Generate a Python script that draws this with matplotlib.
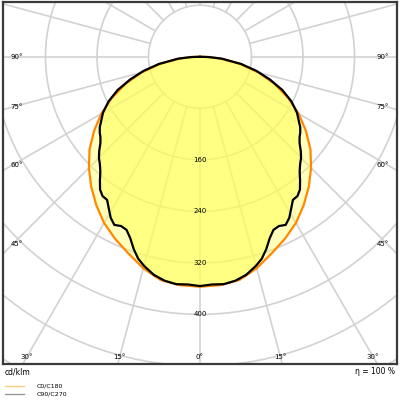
import numpy as np
import matplotlib
matplotlib.use("Agg")
import matplotlib.pyplot as plt

# C0/C180 (smooth) angle (deg from nadir) : cd/klm
c0_ang = [0, 5, 10, 15, 20, 25, 30, 35, 40, 45, 50, 55, 60, 65, 70, 75, 80, 85, 88, 90]
c0_val = [357, 356, 352, 340, 325, 312, 298, 281, 263, 244, 224, 201, 177, 151, 123, 94, 63, 32, 13, 1]
# C90/C270 (wavy)
c90_ang = [0, 3, 6, 9, 12, 15, 17, 19, 21, 23, 25, 27, 29, 31, 33, 35, 37, 39, 41, 43,
           45, 47, 49, 51, 53, 55, 57, 60, 64, 68, 72, 76, 80, 85, 88, 90]
c90_val = [356, 354, 355, 352, 346, 336, 328, 316, 302, 292, 290, 293, 286, 275, 265, 264, 258, 247, 236, 228,
           222, 214, 205, 199, 195, 190, 183, 174, 158, 138, 114, 90, 65, 34, 14, 1]
ring_vals = [80, 160, 240, 320, 400, 480, 560, 640]
ring_labels = [160, 240, 320, 400]
side_angles = [90, 75, 60, 45]
bottom_angles = [30, 15, 0]

fig = plt.figure(figsize=(4, 4), dpi=100)
ax = fig.add_axes([3/400, 36/400, 394/400, 362/400])
XL, YB, YT = 306, -477, 85
ax.set_xlim(-XL, XL); ax.set_ylim(YB, YT)
ax.set_aspect('auto')
ax.set_xticks([]); ax.set_yticks([])
for s in ax.spines.values():
    s.set_color('#3a3a3a'); s.set_linewidth(1.6)

def mirror(ang, val):
    a = np.radians(np.array(ang, float)); v = np.array(val, float)
    x = np.concatenate([-(v * np.sin(a))[::-1], (v * np.sin(a))[1:]])
    y = np.concatenate([-(v * np.cos(a))[::-1], -(v * np.cos(a))[1:]])
    return x, y

gc = '#d2d2d2'
t = np.linspace(0, 2*np.pi, 400)
for r in ring_vals:
    ax.plot(r*np.cos(t), r*np.sin(t), color=gc, lw=1.2, zorder=1)
for a in range(0, 360, 15):
    ar = np.radians(a)
    ax.plot([80*np.sin(ar), 900*np.sin(ar)], [-80*np.cos(ar), -900*np.cos(ar)], color=gc, lw=1.2, zorder=1)

x0, y0 = mirror(c0_ang, c0_val)
x9, y9 = mirror(c90_ang, c90_val)
ax.fill(x0, y0, color='#ffff55', alpha=0.4, lw=0, zorder=2)
ax.fill(x9, y9, color='#ffff55', alpha=0.55, lw=0, zorder=2)
ax.plot(x0, y0, color='#ff8800', lw=1.6, zorder=3, solid_joinstyle='round')
ax.plot(x9, y9, color='black', lw=1.6, zorder=4, solid_joinstyle='round')

for r in ring_labels:
    ax.text(0, -r, str(r), ha='center', va='center', fontsize=5, zorder=5)
for a in side_angles:
    yy = 0 if a == 90 else -290/np.tan(np.radians(a))
    ax.text(-294, yy, f"{a}°", ha='left', va='center', fontsize=5)
    ax.text(294, yy, f"{a}°", ha='right', va='center', fontsize=5)
for a in bottom_angles:
    xx = 465*np.tan(np.radians(a))
    ax.text(-xx, -466, f"{a}°", ha='center', va='center', fontsize=5)
    if a: ax.text(xx, -466, f"{a}°", ha='center', va='center', fontsize=5)

fig.text(5/400, 1-372/400, "cd/klm", fontsize=5.5, va='center')
fig.text(395/400, 1-372/400, "η = 100 %", fontsize=5.5, va='center', ha='right')
fig.add_artist(plt.Line2D([5/400, 24/400], [1-386/400]*2, color='#ffcc88', lw=1))
fig.add_artist(plt.Line2D([5/400, 24/400], [1-394/400]*2, color='#999999', lw=1))
fig.text(37/400, 1-386/400, "C0/C180", fontsize=4.5, va='center')
fig.text(37/400, 1-394/400, "C90/C270", fontsize=4.5, va='center')

fig.savefig("out.png", dpi=100)
